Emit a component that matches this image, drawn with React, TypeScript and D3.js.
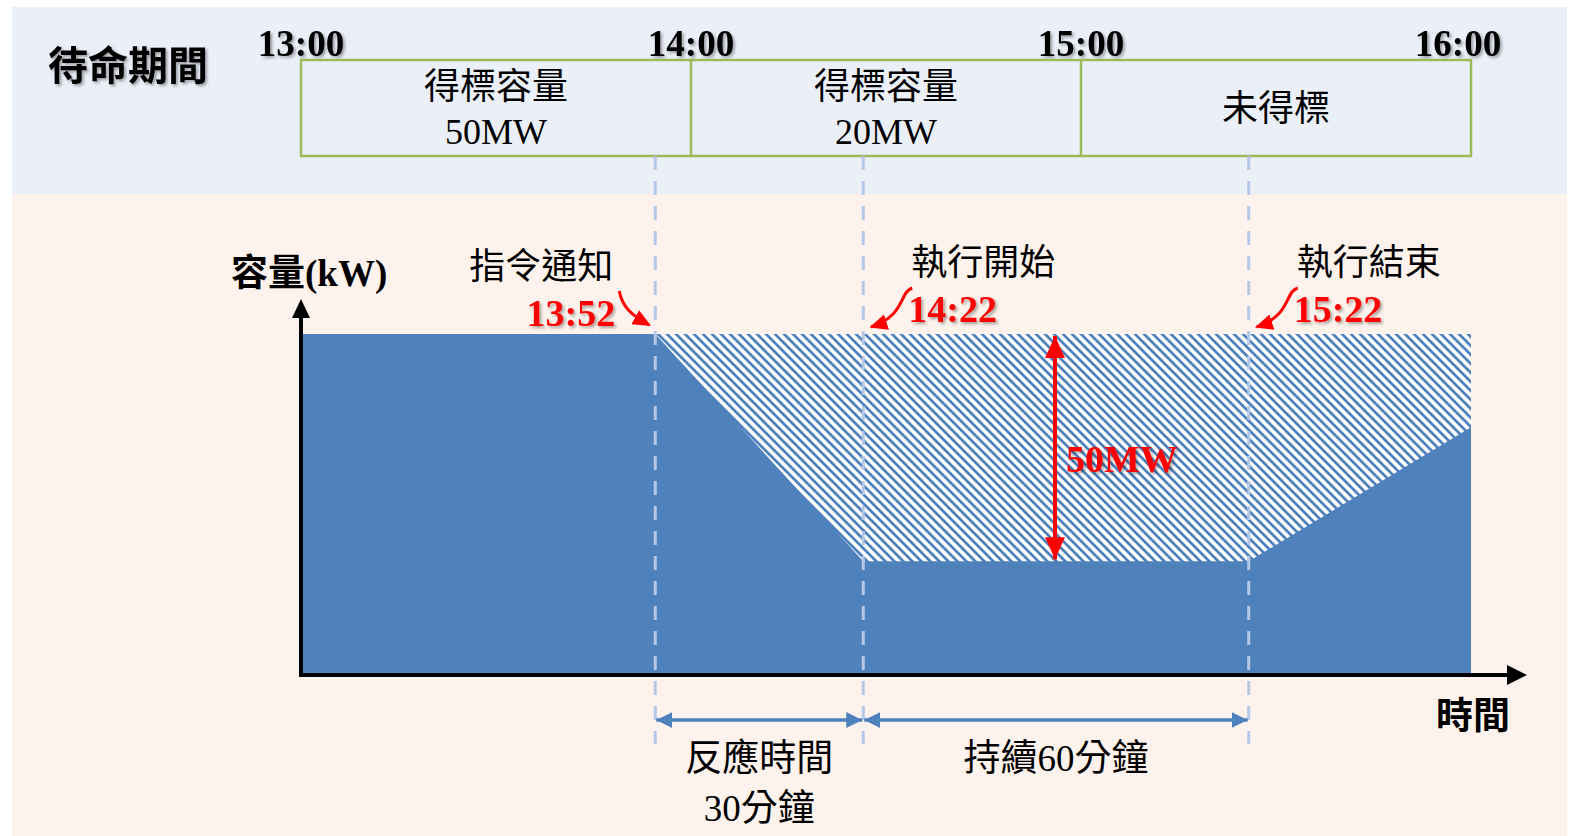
import React from "react";
import * as d3 from "d3";

// x values are minutes after 13:00, y values are MW
const hourTicks = [0, 60, 120, 180];
const hourLabels = ["13:00", "14:00", "15:00", "16:00"];
const periodLabels = [["得標容量", "50MW"], ["得標容量", "20MW"], ["未得標"]];

const loadMinutes = [0, 54.5, 86.5, 145.8, 180];
const loadValues = [75, 75, 25, 25, 54.5];
const baselineValue = 75;

const eventMinutes = [54.5, 86.5, 145.8];
const eventNames = ["指令通知", "執行開始", "執行結束"];
const eventTimes = ["13:52", "14:22", "15:22"];

const spanLabels = [["反應時間", "30分鐘"], ["持續60分鐘"]];
const reductionLabel = "50MW";

const W = 1575;
const H = 836;
const SERIF = "'Liberation Serif', 'Times New Roman', 'Noto Sans CJK TC', serif";
const BLUE = "#4f81bd";
const DASH = "#b4c7e7";
const RED = "#ff0000";

const App: React.FC = () => {
  const x = d3.scaleLinear().domain([0, 180]).range([301, 1471]);
  const y = d3.scaleLinear().domain([0, 75]).range([675, 334]);

  const points = loadMinutes.map((m, i) => ({ m, v: loadValues[i] }));
  const loadArea = d3
    .area<{ m: number; v: number }>()
    .x((d) => x(d.m))
    .y0(y(0))
    .y1((d) => y(d.v));
  // hatch runs down to the axis; the load area is painted over it
  const hatchArea = d3
    .area<{ m: number; v: number }>()
    .x((d) => x(d.m))
    .y0(y(0) - 2)
    .y1(y(baselineValue));
  const hatchPts = points.filter((d) => d.m >= eventMinutes[0]);

  const boxTop = 60;
  const boxBottom = 156;
  const axisY = y(0);
  const axisX = x(0);

  // curved callout arrows (relative to event line)
  const callout = (ex: number, i: number) => {
    if (i === 0) {
      return `M${ex - 36},291 C${ex - 33},307 ${ex - 24},315 ${ex - 6},325`;
    }
    return `M${ex + 49},288 C${ex + 36},292 ${ex + 42},316 ${ex + 8},327`;
  };

  return (
    <svg
      width={W}
      height={H}
      style={{ position: "absolute", left: 0, top: 0 }}
      fontFamily={SERIF}
    >
      <defs>
        <pattern id="hatch" patternUnits="userSpaceOnUse" width={9} height={9}>
          <rect width={9} height={9} fill="#ffffff" />
          <path d="M-3,-3 L12,12 M-3,6 L3,12 M6,-3 L12,3" stroke={BLUE} strokeWidth={2.8} />
        </pattern>
        <filter id="shadow" x="-10%" y="-20%" width="130%" height="150%">
          <feDropShadow dx={2} dy={2} stdDeviation={1.5} floodColor="#000" floodOpacity={0.35} />
        </filter>
        <marker id="redHead" markerUnits="userSpaceOnUse" markerWidth={18} markerHeight={18}
          viewBox="0 0 18 18" refX={16} refY={9} orient="auto">
          <path d="M0,1 L18,9 L0,17 Z" fill={RED} />
        </marker>
        <marker id="redBig" markerUnits="userSpaceOnUse" markerWidth={22} markerHeight={20}
          viewBox="0 0 22 20" refX={22} refY={10} orient="auto-start-reverse">
          <path d="M0,0 L22,10 L0,20 Z" fill={RED} />
        </marker>
        <marker id="blueHead" markerUnits="userSpaceOnUse" markerWidth={16} markerHeight={16}
          viewBox="0 0 16 16" refX={16} refY={8} orient="auto-start-reverse">
          <path d="M0,0 L16,8 L0,16 Z" fill={BLUE} />
        </marker>
      </defs>

      {/* backgrounds */}
      <rect x={12} y={7} width={1555} height={187} fill="#ebf0f8" />
      <rect x={12} y={194} width={1555} height={H - 194} fill="#fdf3ec" />

      {/* standby period header */}
      <text x={48} y={80} fontSize={40} fontWeight="bold" fontFamily="'Noto Sans CJK TC', sans-serif"
        filter="url(#shadow)">
        待命期間
      </text>
      {hourTicks.map((t, i) => (
        <text key={t} x={x(t)} dx={i === hourTicks.length - 1 ? -13 : 0} y={56} fontSize={37}
          fontWeight="bold" textAnchor="middle" filter="url(#shadow)">
          {hourLabels[i]}
        </text>
      ))}
      <rect x={x(0)} y={boxTop} width={x(180) - x(0)} height={boxBottom - boxTop}
        fill="none" stroke="#9bbb59" strokeWidth={2.5} />
      {hourTicks.slice(1, 3).map((t) => (
        <line key={t} x1={x(t)} x2={x(t)} y1={boxTop} y2={boxBottom} stroke="#9bbb59" strokeWidth={2.5} />
      ))}
      {periodLabels.map((lines, i) => {
        const cx = (x(hourTicks[i]) + x(hourTicks[i + 1])) / 2;
        const startY = lines.length === 1 ? 121 : 99;
        return lines.map((s, j) => (
          <text key={`${i}-${j}`} x={cx} y={startY + j * 45} fontSize={36} textAnchor="middle">
            {s}
          </text>
        ));
      })}

      {/* capacity areas */}
      <path d={hatchArea(hatchPts) ?? ""} fill="url(#hatch)" />
      <path d={loadArea(points) ?? ""} fill={BLUE} />

      {/* event dashed lines */}
      {eventMinutes.map((m) => (
        <line key={m} x1={x(m)} x2={x(m)} y1={boxBottom} y2={744} stroke={DASH}
          strokeWidth={3} strokeDasharray="14 11" />
      ))}

      {/* axes */}
      <line x1={axisX} x2={axisX} y1={axisY + 2} y2={316} stroke="#000" strokeWidth={4} />
      <path d={`M${axisX},299 L${axisX - 9},318 L${axisX + 9},318 Z`} fill="#000" />
      <line x1={axisX - 2} x2={1508} y1={axisY} y2={axisY} stroke="#000" strokeWidth={4} />
      <path d={`M1527,${axisY} L1507,${axisY - 10} L1507,${axisY + 10} Z`} fill="#000" />
      <text x={231} y={286} fontSize={37} fontWeight="bold">容量(kW)</text>
      <text x={1436} y={729} fontSize={37} fontWeight="bold">時間</text>

      {/* event labels and callouts */}
      {eventMinutes.map((m, i) => {
        const ex = x(m);
        const left = i === 0;
        return (
          <g key={m}>
            <text x={left ? ex - 42 : ex + 48} y={left ? 279 : 275} fontSize={36}
              textAnchor={left ? "end" : "start"}>
              {eventNames[i]}
            </text>
            <text x={left ? ex - 40 : ex + 45} y={left ? 326 : 322} fontSize={38}
              fontWeight="bold" fill={RED} textAnchor={left ? "end" : "start"} filter="url(#shadow)">
              {eventTimes[i]}
            </text>
            <path d={callout(ex, i)} fill="none" stroke={RED} strokeWidth={3}
              markerEnd="url(#redHead)" />
          </g>
        );
      })}

      {/* reduction arrow */}
      <line x1={1055} x2={1055} y1={y(baselineValue) + 2} y2={y(25) - 2} stroke={RED}
        strokeWidth={4} markerStart="url(#redBig)" markerEnd="url(#redBig)" />
      <text x={1066} y={472} fontSize={38} fontWeight="bold" fill={RED} filter="url(#shadow)">
        {reductionLabel}
      </text>

      {/* duration spans */}
      {[0, 1].map((i) => {
        const x0 = x(eventMinutes[i]);
        const x1 = x(eventMinutes[i + 1]);
        return (
          <g key={i}>
            <line x1={x0 + 1} x2={x1 - 1} y1={720} y2={720} stroke={BLUE} strokeWidth={3.5}
              markerStart="url(#blueHead)" markerEnd="url(#blueHead)" />
            {spanLabels[i].map((s, j) => (
              <text key={j} x={(x0 + x1) / 2} y={771 + j * 50} fontSize={37} textAnchor="middle">
                {s}
              </text>
            ))}
          </g>
        );
      })}
    </svg>
  );
};

export default App;
